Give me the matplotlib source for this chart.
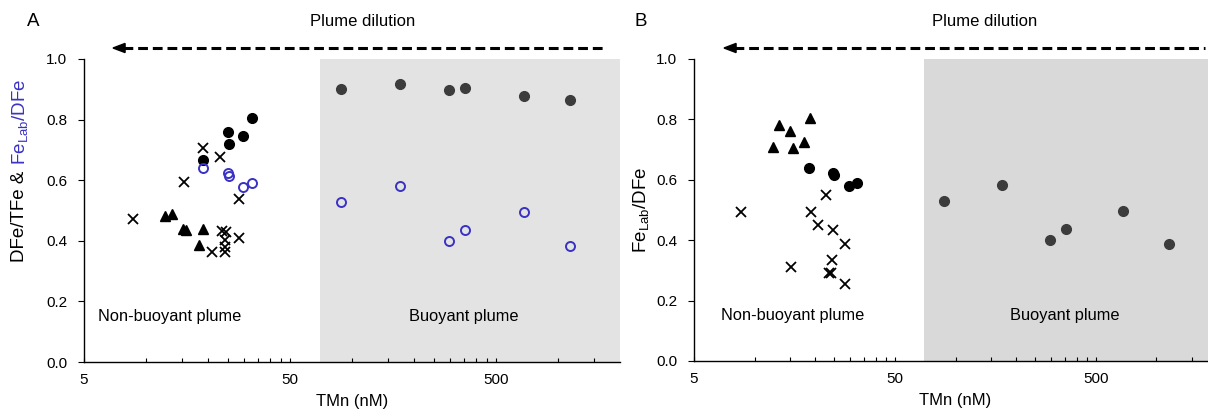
import numpy as np
import matplotlib
matplotlib.use("Agg")
import matplotlib.pyplot as plt
from matplotlib.ticker import FixedLocator, NullFormatter, FixedFormatter
from matplotlib.lines import Line2D

plt.rcParams['font.family'] = ['Liberation Sans', 'DejaVu Sans']
plt.rcParams['mathtext.default'] = 'regular'

# panel A - non-buoyant plume
a_circ_x   = [18.9, 25.0, 25.2, 29.5, 32.7]
a_circ_y   = [0.667, 0.758, 0.720, 0.747, 0.804]
a_open_x   = [18.9, 25.0, 25.2, 29.5, 32.8]
a_open_y   = [0.640, 0.625, 0.615, 0.579, 0.590]
a_tri_x    = [12.3, 13.4, 15.2, 15.7, 18.9, 18.1]
a_tri_y    = [0.482, 0.487, 0.438, 0.436, 0.440, 0.385]
a_cross_x  = [8.66, 15.3, 19.0, 22.8, 28.3, 20.8, 23.5, 24.5, 24.3, 24.1, 24.1, 28.3]
a_cross_y  = [0.471, 0.595, 0.705, 0.675, 0.538, 0.362, 0.433, 0.430, 0.403, 0.381, 0.362, 0.408]

# panel A - buoyant plume
a_buoy_x      = [88.5, 171, 296, 354, 683, 1150]
a_buoy_dfe    = [0.900, 0.917, 0.898, 0.903, 0.879, 0.864]
a_buoy_felab  = [0.527, 0.582, 0.398, 0.437, 0.494, 0.384]

# panel B - non-buoyant plume
b_tri_x    = [12.3, 13.3, 15.1, 15.6, 17.7, 18.8]
b_tri_y    = [0.710, 0.781, 0.762, 0.706, 0.724, 0.804]
b_circ_x   = [18.7, 24.5, 24.9, 29.4, 32.5]
b_circ_y   = [0.639, 0.624, 0.616, 0.580, 0.589]
b_cross_x  = [8.57, 15.2, 19.1, 20.8, 22.6, 24.7, 24.4, 23.4, 24.0, 28.2, 28.2]
b_cross_y  = [0.492, 0.312, 0.492, 0.450, 0.550, 0.434, 0.334, 0.290, 0.290, 0.388, 0.256]

# panel B - buoyant plume
b_buoy_x   = [88, 171, 295, 353, 684, 1158]
b_buoy_y   = [0.529, 0.584, 0.400, 0.437, 0.496, 0.387]

major_ticks = [5, 50, 500]
minor_ticks = [5 * k for k in range(2, 10)] + [50 * k for k in range(2, 10)] + [1000, 1500]
y_ticks     = [0.0, 0.2, 0.4, 0.6, 0.8, 1.0]

BLUE = '#3a32c4'
W, H = 1208, 416


def style_axis(ax, shade, x_nonbuoy):
    ax.set_xscale('log')
    ax.set_xlim(5, 2000)
    ax.set_ylim(0, 1.0)
    ax.axvspan(70, 2000, ymin=0, ymax=1, color=shade, zorder=0, lw=0)
    for s in ['top', 'right']:
        ax.spines[s].set_visible(False)
    for s in ['left', 'bottom']:
        ax.spines[s].set_linewidth(1.0)
    ax.xaxis.set_major_locator(FixedLocator(major_ticks))
    ax.xaxis.set_major_formatter(FixedFormatter([str(t) for t in major_ticks]))
    ax.xaxis.set_minor_locator(FixedLocator(minor_ticks))
    ax.xaxis.set_minor_formatter(NullFormatter())
    ax.set_yticks(y_ticks)
    ax.set_yticklabels([f"{t:.1f}" for t in y_ticks])
    ax.tick_params(axis='x', which='both', direction='in', length=3, width=0.8,
                   labelsize=11, pad=8)
    ax.tick_params(axis='y', direction='out', length=4, width=0.8, labelsize=11, pad=8)
    ax.set_xlabel('TMn (nM)', fontsize=12, labelpad=5)
    ax.text(x_nonbuoy, 0.15, 'Non-buoyant plume', fontsize=11.8, ha='center', va='center')
    ax.text(350, 0.15, 'Buoyant plume', fontsize=11.8, ha='center', va='center')


def dilution_arrow(fig, x0, x1, xtext, letter, xletter):
    y = 1 - 48 / H
    fig.add_artist(Line2D([x0 / W + 0.008, x1 / W], [y, y], transform=fig.transFigure,
                          color='black', lw=2.2, linestyle=(0, (3.2, 1.6))))
    fig.add_artist(plt.Polygon([[x0 / W, y], [x0 / W + 0.01, y + 0.011],
                                [x0 / W + 0.01, y - 0.011]], closed=True,
                               transform=fig.transFigure, color='black'))
    fig.text(xtext / W, 1 - 22 / H, 'Plume dilution', fontsize=12, ha='center', va='center')
    fig.text(xletter / W, 1 - 22 / H, letter, fontsize=13.5, ha='center', va='center')


fig = plt.figure(figsize=(W / 100, H / 100), dpi=100)
ax_a = fig.add_axes([84 / W, 1 - 362 / H, 536 / W, 303 / H])
ax_b = fig.add_axes([694 / W, 1 - 361 / H, 523 / W, 302 / H])

# panel A
style_axis(ax_a, '#e3e3e3', 13)
ax_a.plot(a_cross_x, a_cross_y, 'x', color='black', ms=7, mew=1.3, ls='none')
ax_a.plot(a_tri_x, a_tri_y, '^', color='black', ms=7.5, ls='none')
ax_a.plot(a_circ_x, a_circ_y, 'o', color='black', ms=7, ls='none')
ax_a.plot(a_open_x, a_open_y, 'o', mfc='none', mec=BLUE, mew=1.4, ms=6.5, ls='none')
ax_a.plot(a_buoy_x, a_buoy_dfe, 'o', color='#3c3c3c', ms=7, ls='none')
ax_a.plot(a_buoy_x, a_buoy_felab, 'o', mfc='none', mec=BLUE, mew=1.4, ms=6.5, ls='none')

# panel B
style_axis(ax_b, '#d9d9d9', 15.4)
ax_b.plot(b_cross_x, b_cross_y, 'x', color='black', ms=7, mew=1.3, ls='none')
ax_b.plot(b_tri_x, b_tri_y, '^', color='black', ms=7.5, ls='none')
ax_b.plot(b_circ_x, b_circ_y, 'o', color='black', ms=7, ls='none')
ax_b.plot(b_buoy_x, b_buoy_y, 'o', color='#3c3c3c', ms=7, ls='none')
ax_b.set_ylabel('Fe$_{Lab}$/DFe', fontsize=13.5, labelpad=4)

dilution_arrow(fig, 113, 605, 363, 'A', 33)
dilution_arrow(fig, 724, 1205, 985, 'B', 641)

# two-colour y label for panel A
t1 = fig.text(20 / W, 1 - 262 / H, 'DFe/TFe & ', rotation=90, fontsize=13.5,
              ha='center', va='bottom', color='black')
fig.canvas.draw()
bb = t1.get_window_extent()
fig.text(20 / W, bb.y1 / H, 'Fe$_{Lab}$/DFe', rotation=90, fontsize=13.5,
         ha='center', va='bottom', color=BLUE)

fig.savefig('out.png', dpi=100)
